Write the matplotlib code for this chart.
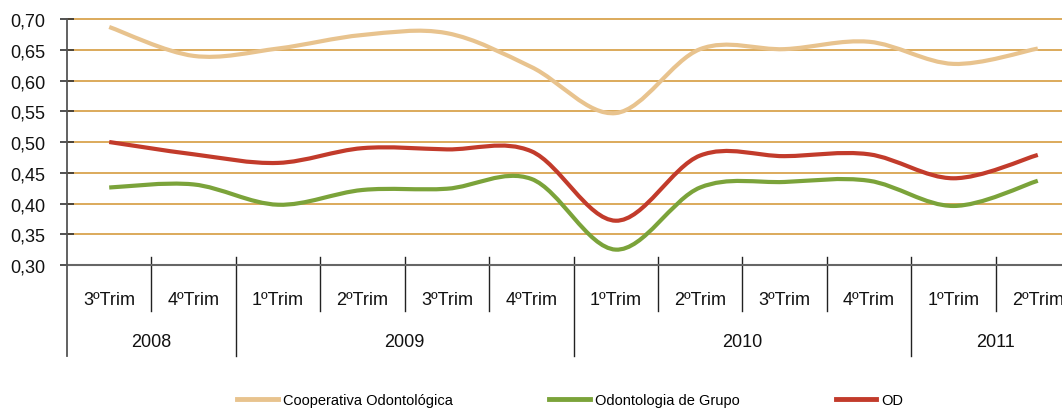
import matplotlib
matplotlib.use('Agg')
import matplotlib.pyplot as plt
import numpy as np
from matplotlib.path import Path
from matplotlib.patches import PathPatch
from matplotlib.lines import Line2D
from matplotlib.ticker import FixedLocator, FuncFormatter

# Series per quarter, 3ºTrim 2008 .. 2ºTrim 2011
quarters = ['3ºTrim', '4ºTrim',
            '1ºTrim', '2ºTrim', '3ºTrim', '4ºTrim',
            '1ºTrim', '2ºTrim', '3ºTrim', '4ºTrim',
            '1ºTrim', '2ºTrim']
years = ['2008', '2009', '2010', '2011']
quarters_per_year = [2, 4, 4, 2]

coop = [0.687, 0.640, 0.652, 0.674, 0.677, 0.622,
        0.547, 0.651, 0.651, 0.663, 0.627, 0.652]
grupo = [0.426, 0.431, 0.398, 0.422, 0.424, 0.440,
         0.325, 0.426, 0.435, 0.437, 0.396, 0.437]
od = [0.500, 0.480, 0.466, 0.490, 0.488, 0.485,
      0.372, 0.478, 0.477, 0.480, 0.441, 0.479]

series = [
    ('Cooperativa Odontológica', coop, '#E8C38E'),
    ('Odontologia de Grupo', grupo, '#7BA33A'),
    ('OD', od, '#C23B2B'),
]

plt.rcParams['font.family'] = ['Liberation Sans', 'DejaVu Sans']


def smooth_path(xs, ys):
    '''Cubic bezier through every point (catmull-rom style tangents)'''
    pts = np.column_stack([xs, ys]).astype(float)
    n = len(pts)
    verts = [pts[0]]
    codes = [Path.MOVETO]
    for i in range(n - 1):
        p0 = pts[i - 1] if i > 0 else pts[i]
        p1 = pts[i]
        p2 = pts[i + 1]
        p3 = pts[i + 2] if i + 2 < n else pts[i + 1]
        c1 = p1 + (p2 - p0) / 6.0
        c2 = p2 - (p3 - p1) / 6.0
        verts += [c1, c2, p2]
        codes += [Path.CURVE4] * 3
    return Path(verts, codes)


W, H = 1062, 410
fig = plt.figure(figsize=(W / 100, H / 100), dpi=100)
ax = fig.add_axes([67 / W, 1 - 266 / H, (1080 - 67) / W, 246 / H])

x = np.arange(len(quarters))
for label, vals, color in series:
    patch = PathPatch(smooth_path(x, vals), facecolor='none', edgecolor=color,
                      lw=3.0, capstyle='butt', joinstyle='round', zorder=3)
    ax.add_patch(patch)

ax.set_xlim(-0.5, len(quarters) - 0.5)
ax.set_ylim(0.30, 0.70)

# Ticks and grid
ax.yaxis.set_major_locator(FixedLocator(np.arange(0.30, 0.701, 0.05)))
ax.yaxis.set_major_formatter(FuncFormatter(lambda v, p: f'{v:.2f}'.replace('.', ',')))
ax.grid(which='major', axis='y', color='#D59C40', lw=1.2, zorder=1)
for gl in ax.get_ygridlines():
    gl.set_clip_on(False)
ax.set_axisbelow(True)
ax.tick_params(axis='y', direction='inout', length=10, width=1.2, color='#333333',
               labelsize=13, pad=10.5, labelcolor='#111111')
ax.set_xticks([])

for side in ['top', 'right', 'left']:
    ax.spines[side].set_visible(False)
ax.spines['bottom'].set_color('#666666')
ax.spines['bottom'].set_linewidth(1.5)

# Left axis line, runs down through the category area
ax.add_line(Line2D([0, 0], [1.0, -0.37], transform=ax.transAxes,
                   color='#555555', lw=1.3, clip_on=False, zorder=4))

# Category separators and labels
trans = ax.get_xaxis_transform()
bounds = np.cumsum([0] + quarters_per_year) - 0.5
for i in range(1, len(quarters)):
    xb = i - 0.5
    y_end = -0.37 if xb in bounds else -0.187
    ax.add_line(Line2D([xb, xb], [0.033, y_end], transform=trans,
                       color='#222222', lw=1.0, clip_on=False))

for i, q in enumerate(quarters):
    ax.text(i, -0.14, q, transform=trans, ha='center', va='center',
            fontsize=13, color='#111111')

for j, yr in enumerate(years):
    xc = (bounds[j] + bounds[j + 1]) / 2
    ax.text(xc, -0.31, yr, transform=trans, ha='center', va='center',
            fontsize=13, color='#111111')

# Legend
handles = [Line2D([], [], color=c, lw=3.5) for _, _, c in series]
labels = [s[0] for s in series]
fig.legend(handles, labels, loc='center left', bbox_to_anchor=(231 / W, 1 - 401 / H),
           ncol=3, frameon=False, fontsize=10.5, handlelength=2.8,
           handletextpad=0.34, columnspacing=6.6, borderaxespad=0)

fig.savefig('out.png', dpi=100)
